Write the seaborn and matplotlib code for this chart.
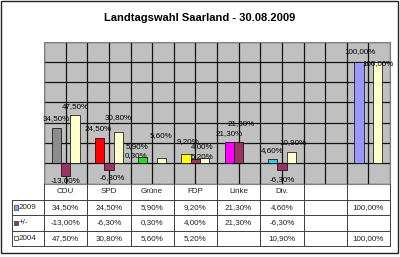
import numpy as np
import pandas as pd
import matplotlib
matplotlib.use("Agg")
import matplotlib.pyplot as plt
from matplotlib.lines import Line2D
from matplotlib.patches import Rectangle
import seaborn as sns

# ---------------- data ----------------
title = "Landtagswahl Saarland - 30.08.2009"
categories = ["CDU", "SPD", "Grüne", "FDP", "Linke", "Div.", " ", "  "]
series_names = ["2009", "+/-", "2004"]
values_2009 = [34.5, 24.5, 5.9, 9.2, 21.3, 4.6, np.nan, 100.0]
values_diff = [-13.0, -6.3, 0.3, 4.0, 21.3, -6.3, np.nan, np.nan]
values_2004 = [47.5, 30.8, 5.6, 5.2, np.nan, 10.9, np.nan, 100.0]

# ---------------- styles ----------------
series_colors = ["#9999FF", "#993366", "#FFFFCC"]
point_colors_2009 = ["#8C8C8C", "#FF0000", "#22DD22", "#FFFF00", "#FF00FF",
                     "#33CCEE", "#9999FF", "#9999FF"]
# label nudges in pixels (dx, distance from bar end), per (series, category index)
label_nudge = {
    ("2009", 0): (0, 10), ("2009", 1): (-1, 10), ("2009", 2): (-6, 11),
    ("2009", 3): (2, 12), ("2009", 4): (0, 8), ("2009", 5): (0, 8.5),
    ("2009", 7): (1.5, 10),
    ("+/-", 0): (0, 4), ("+/-", 1): (3, 7.5), ("+/-", 2): (-16, 7),
    ("+/-", 3): (6.5, 12.5), ("+/-", 4): (2.5, 18), ("+/-", 5): (0, 10),
    ("2004", 0): (0, 9), ("2004", 1): (0, 14), ("2004", 2): (0, 22),
    ("2004", 3): (-3, 1.5), ("2004", 5): (2, 9.5), ("2004", 7): (0, -1.5),
}

plt.rcParams['font.family'] = ['Liberation Sans', 'DejaVu Sans']
sns.set_style("white")
plt.rcParams['font.family'] = ['Liberation Sans', 'DejaVu Sans']

def fmt(v):
    return f"{v:.2f}".replace(".", ",") + "%"

rows = []
for s, vals in zip(series_names, [values_2009, values_diff, values_2004]):
    for c, v in zip(categories, vals):
        if not np.isnan(v):
            rows.append({"Partei": c, "Serie": s, "Wert": v})
df = pd.DataFrame(rows)

W, H = 400, 257
fig = plt.figure(figsize=(W / 100, H / 100), dpi=100)
fig.patch.set_facecolor("white")

def fx(x):
    return x / W

def fy(y):
    return 1 - y / H

x0, x1 = 44, 390
y_top, y_bot = 41.5, 183.6
ax = fig.add_axes([fx(x0), fy(y_bot), fx(x1) - fx(x0), fy(y_top) - fy(y_bot)])

sns.barplot(data=df, x="Partei", y="Wert", hue="Serie", order=categories,
            hue_order=series_names, palette=series_colors, saturation=1,
            width=0.65, errorbar=None, edgecolor="black", linewidth=0.5,
            legend=False, ax=ax)

ax.set_ylim(-20, 120)
ax.set_xlim(-0.5, len(categories) - 0.5)
ax.set_xticks(np.arange(-0.5, len(categories) - 0.4, 0.5))
ax.set_xticklabels([])
ax.set_yticks(np.arange(-20, 121, 20))
ax.set_yticklabels([])
ax.tick_params(length=0)
ax.set_xlabel("")
ax.set_ylabel("")
ax.set_facecolor("#C0C0C0")
ax.grid(True, color="#111111", linewidth=0.9)
ax.set_axisbelow(True)
for sp in ax.spines.values():
    sp.set_color("#808080")
    sp.set_linewidth(0.8)

# recolour 2009 bars per party, add data labels
for s, cont in zip(series_names, ax.containers):
    for bar in cont:
        xc = bar.get_x() + bar.get_width() / 2
        ci = int(round(xc))
        v = bar.get_height()
        if np.isnan(v):
            continue
        if s == "2009":
            bar.set_facecolor(point_colors_2009[ci])
        dx, dd = label_nudge.get((s, ci), (0, 9))
        dy = dd if v >= 0 else -dd
        ax.annotate(fmt(v), (xc, v), xytext=(dx * 0.72, dy * 0.72),
                    textcoords="offset points", ha="center", va="center",
                    fontsize=5.8, color="black", annotation_clip=False)

# ---------------- data table ----------------
lc = "#404040"
lw = 0.7
row_lines = [200, 215, 230.5, 246]
col_w = (x1 - x0) / len(categories)
left_x = 11.7

def hline(y, xa, xb):
    fig.add_artist(Line2D([fx(xa), fx(xb)], [fy(y), fy(y)], color=lc, lw=lw,
                          transform=fig.transFigure))

def vline(x, ya, yb):
    fig.add_artist(Line2D([fx(x), fx(x)], [fy(ya), fy(yb)], color=lc, lw=lw,
                          transform=fig.transFigure))

for y in row_lines:
    hline(y, left_x, x1)
for i in range(len(categories) + 1):
    vline(x0 + i * col_w, y_bot, row_lines[-1])
vline(left_x, row_lines[0], row_lines[-1])

fs_tab = 5.8
header_y = (y_bot + row_lines[0]) / 2
for i, c in enumerate(categories):
    fig.text(fx(x0 + (i + 0.5) * col_w), fy(header_y), c.strip(),
             ha="center", va="center", fontsize=fs_tab, color="#222222")

for r, (s, vals) in enumerate(zip(series_names, [values_2009, values_diff, values_2004])):
    yc = (row_lines[r] + row_lines[r + 1]) / 2
    for i, v in enumerate(vals):
        if not np.isnan(v):
            fig.text(fx(x0 + (i + 0.5) * col_w), fy(yc), fmt(v),
                     ha="center", va="center", fontsize=fs_tab, color="#222222")
    # legend key
    ks = 4.2
    fig.add_artist(Rectangle((fx(13.8), fy(yc + ks / 2)), ks / W, ks / H,
                             facecolor=series_colors[r], edgecolor="#333333",
                             lw=0.5, transform=fig.transFigure))
    fig.text(fx(19), fy(yc), s, ha="left", va="center", fontsize=fs_tab,
             color="#222222")

# title
fig.text(0.5, fy(18), title, ha="center", va="center", fontsize=8,
         fontweight="bold", color="black")

# outer border
fig.add_artist(Rectangle((fx(1), fy(253)), (397.5 - 1) / W, (253 - 0.5) / H,
                         fill=False, edgecolor="#222222", lw=1,
                         transform=fig.transFigure))

fig.savefig("out.png", dpi=100)
